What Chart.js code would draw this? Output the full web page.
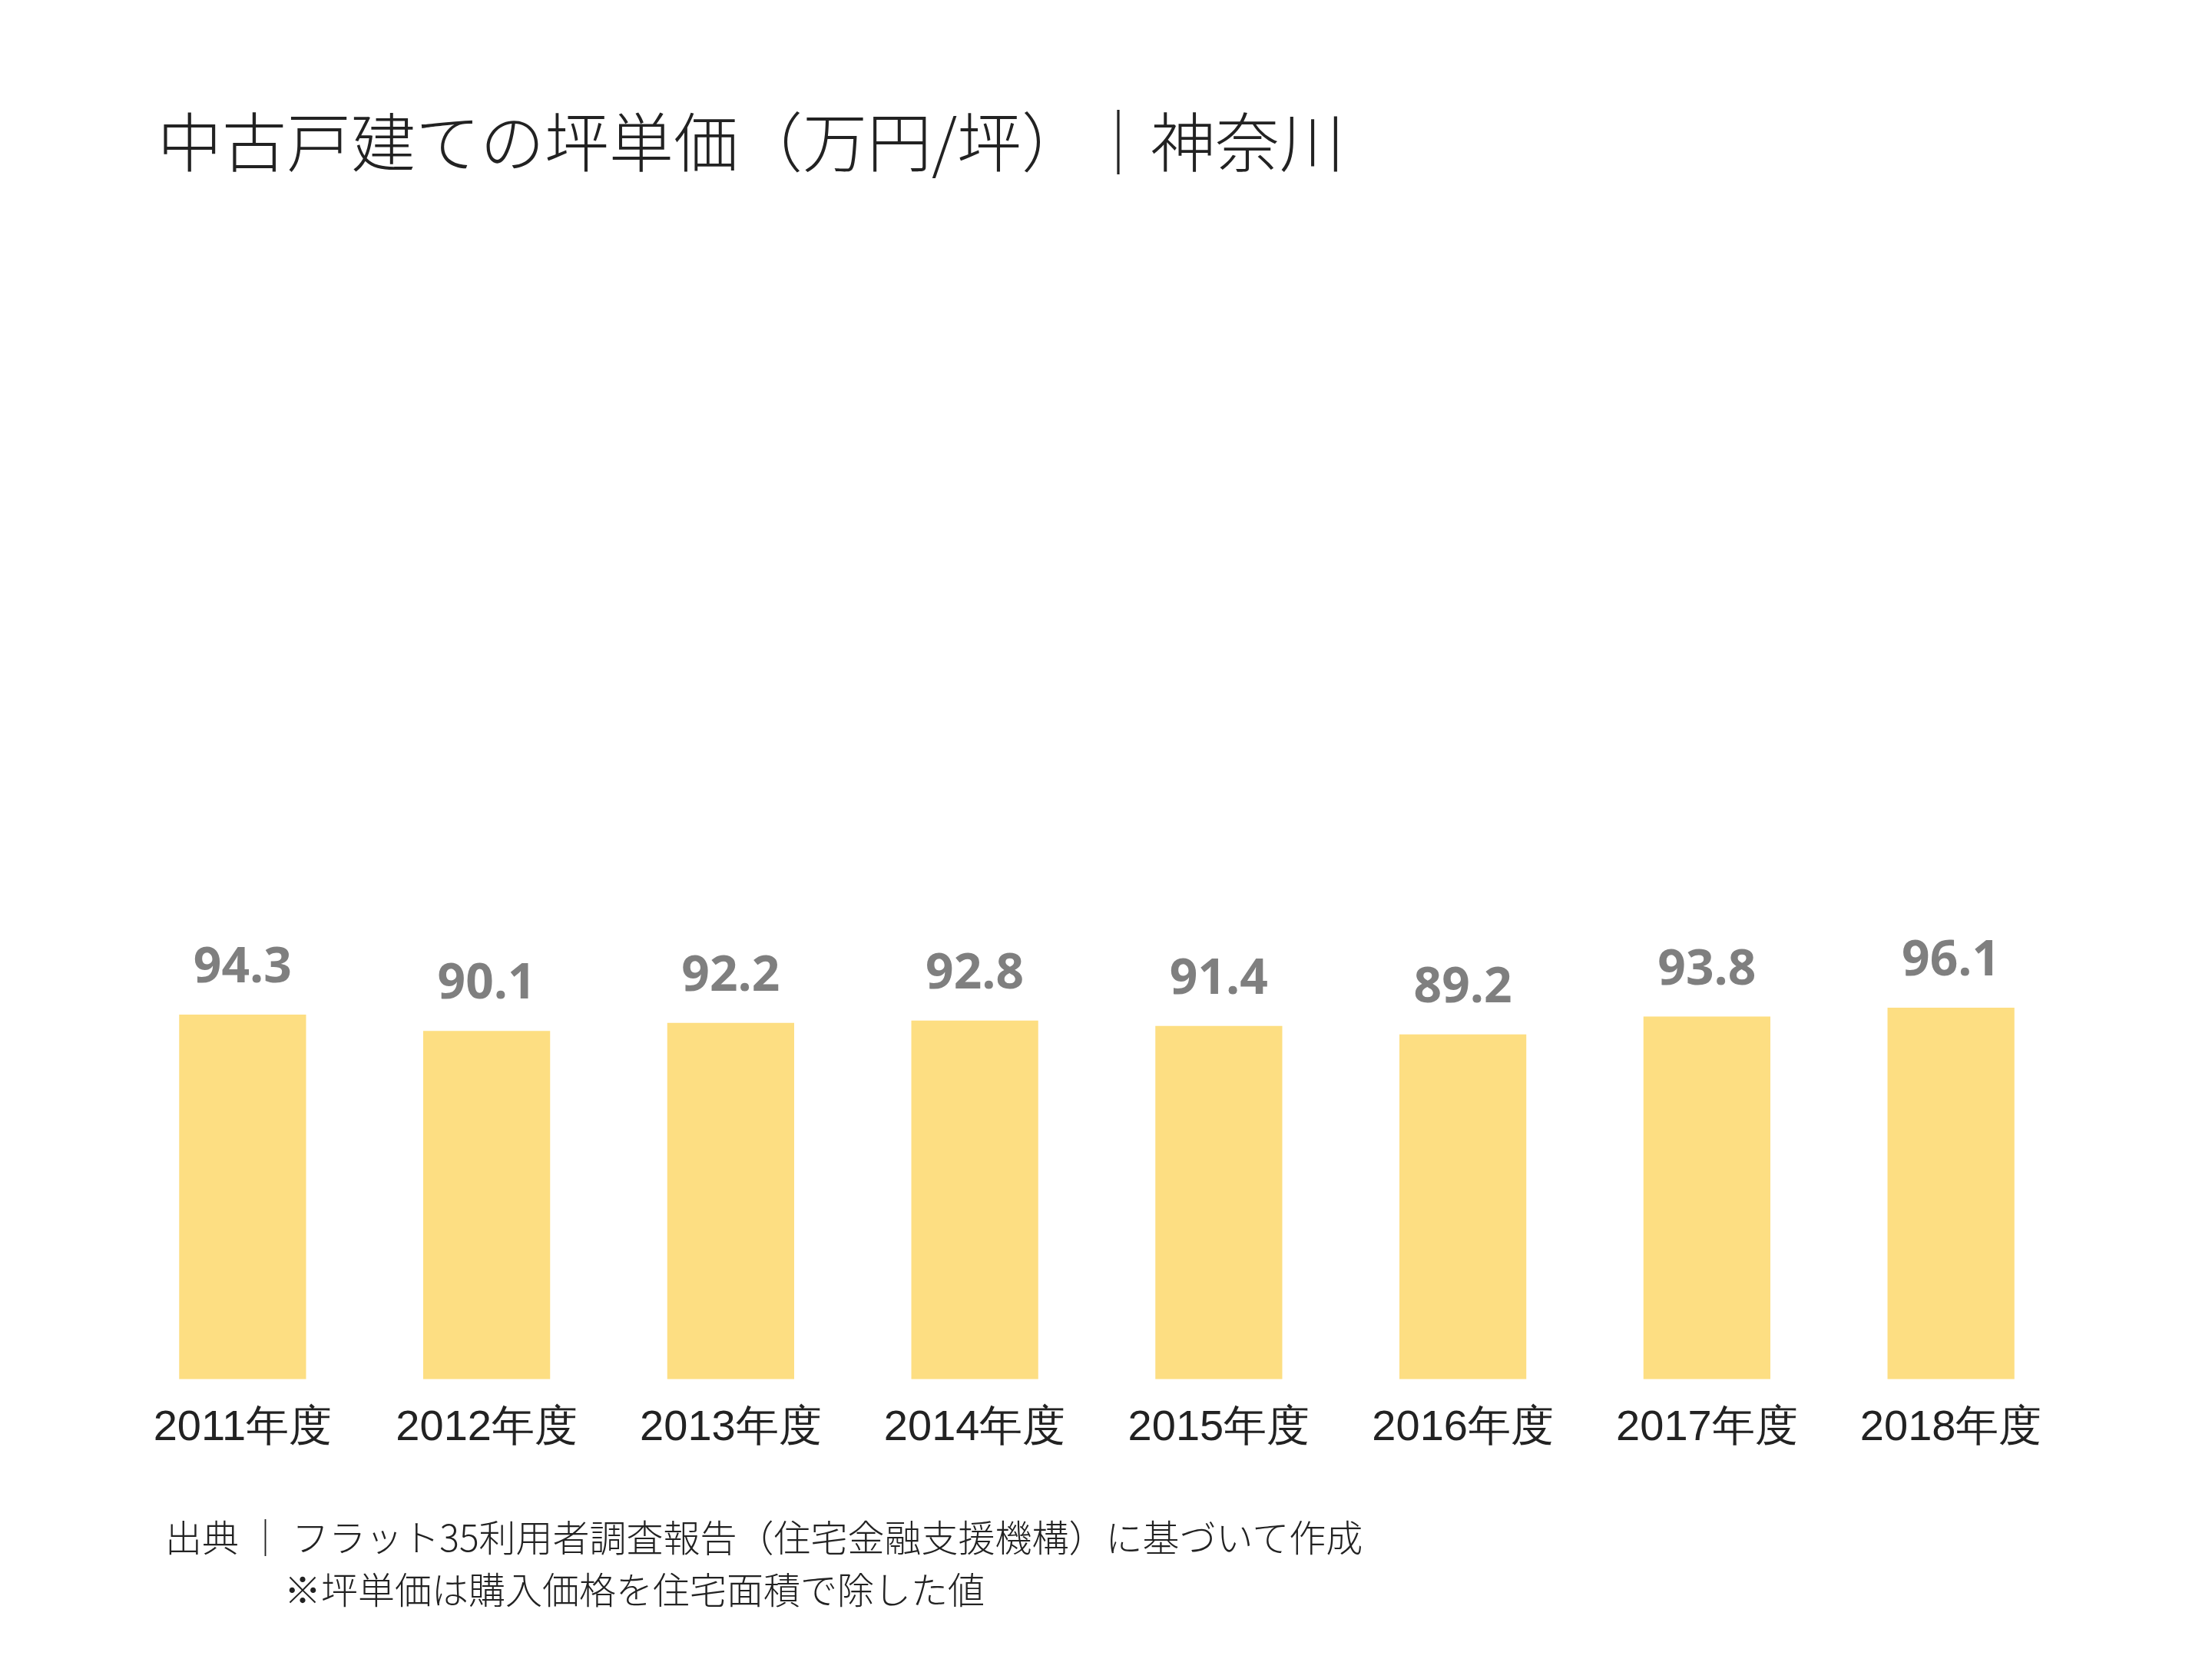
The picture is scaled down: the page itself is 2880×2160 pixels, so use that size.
<!DOCTYPE html>
<html>
<head>
<meta charset="utf-8">
<script src="https://cdn.jsdelivr.net/npm/chart.js@4"></script>
<style>
body { margin: 0; background: #fff; }
#wrap { position: relative; width: 2880px; height: 2160px; }
#title { position: absolute; left: 205px; top: 120px; font: 300 84px "Noto Sans CJK JP"; color: #222; }
#note { position: absolute; left: 215px; top: 1965px; font: 300 48px "Noto Sans CJK JP"; color: #222; line-height: 68px; }
</style>
</head>
<body>
<div id="wrap">
<canvas id="chart" width="2880" height="2160"></canvas>
<div id="title">中古戸建ての坪単価（万円/坪）｜神奈川</div>
<div id="note">出典 ｜ フラット35利用者調査報告（住宅金融支援機構）に基づいて作成<br><span style="padding-left:155px">※坪単価は購入価格を住宅面積で除した値</span></div>
</div>
<script>
const years = ['2011年度', '2012年度', '2013年度', '2014年度', '2015年度', '2016年度', '2017年度', '2018年度'];
const prices = [94.3, 90.1, 92.2, 92.8, 91.4, 89.2, 93.8, 96.1];

// 棒の上に値を表示
const valueLabels = {
    id: 'valueLabels',
    afterDatasetsDraw(chart) {
        const ctx = chart.ctx;
        const meta = chart.getDatasetMeta(0);
        ctx.save();
        ctx.font = 'bold 64px "Open Sans"';
        ctx.fillStyle = '#7f7f7f';
        ctx.textAlign = 'center';
        ctx.textBaseline = 'bottom';
        meta.data.forEach(function (bar, i) {
            ctx.fillText(prices[i].toFixed(1), bar.x, bar.y - 28);
        });
        ctx.restore();
    }
};

new Chart(document.getElementById('chart'), {
    type: 'bar',
    data: {
        labels: years,
        datasets: [{
            data: prices,
            backgroundColor: '#FDDE82',
            categoryPercentage: 0.52,
            barPercentage: 1.0
        }]
    },
    options: {
        responsive: false,
        animation: false,
        layout: { padding: { left: 157, right: 181, top: 789, bottom: 245 } },
        plugins: { legend: { display: false }, tooltip: { enabled: false } },
        scales: {
            x: {
                grid: { display: false },
                border: { display: false },
                ticks: { color: '#222', font: { size: 56, family: 'Liberation Sans' }, padding: 22 }
            },
            y: { display: false, min: 0, max: 200 }
        }
    },
    plugins: [valueLabels]
});
</script>
</body>
</html>
